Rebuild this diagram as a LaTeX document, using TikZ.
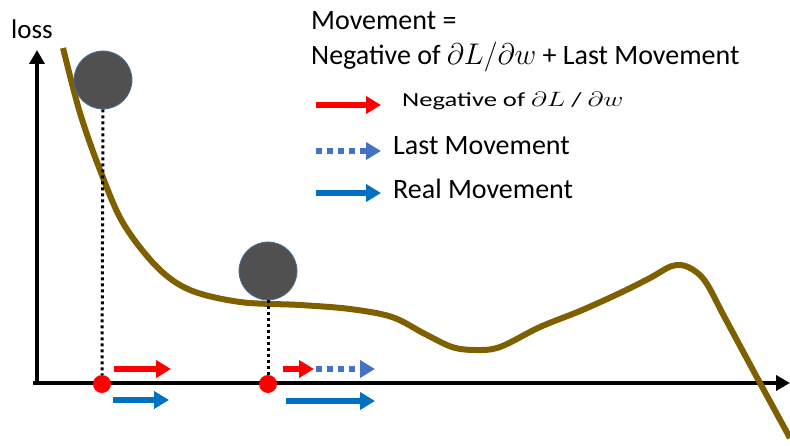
\documentclass[tikz,border=0pt]{standalone}
\usepackage{fontspec}
\setmainfont{Carlito}
\usetikzlibrary{arrows.meta, positioning, calc}
\definecolor{lossbrown}{HTML}{7F6000}
\definecolor{ballgray}{HTML}{505050}
\definecolor{ballrim}{HTML}{41719C}
\definecolor{lastblue}{HTML}{4472C4}
\definecolor{realblue}{HTML}{0070C0}
\newcommand{\gradtext}{\scalebox{1.2}{$\partial L/\partial w$}}
\tikzset{
    axis/.style={line width=4pt, -{Triangle[length=14pt, width=15pt]}},
    losscurve/.style={line width=6pt, lossbrown},
    ball/.style={circle, draw=ballrim, line width=0.8pt, fill=ballgray, minimum size=58pt, inner sep=0pt},
    dot/.style={circle, fill=red, minimum size=18pt, inner sep=0pt},
    dropline/.style={line width=3pt, dash pattern=on 3pt off 3pt},
    negarrow/.style={line width=6pt, red, -{Triangle[length=15pt, width=17pt]}},
    lastarrow/.style={line width=6pt, lastblue, dash pattern=on 6pt off 5pt, -{Triangle[length=15pt, width=17pt]}},
    realarrow/.style={line width=6pt, realblue, -{Triangle[length=15pt, width=17pt]}},
    label/.style={anchor=base west, inner sep=0pt, font=\fontsize{28}{32}\selectfont}
}
\begin{document}
\begin{tikzpicture}[x=1pt, y=-1pt]
    \useasboundingbox (0,0) rectangle (790,446);
    % axes
    \coordinate (origin) at (33,383);
    \coordinate (ytip) at (37,50);
    \coordinate (xtip) at (790,383);
    \draw [axis] ($(origin)+(4,0)$) -- (ytip);
    \draw [axis] (origin) -- (xtip);
    \node [label, font=\fontsize{27}{30}\selectfont] (loss) at (11,39) {loss};
    % loss curve
    \draw [losscurve] plot [smooth, tension=0.55] coordinates {
        (63,48) (80,113) (100,170) (123,223) (157,267) (190,290) (240,302)
        (300,305) (350,309) (392,317) (425,334) (452,347) (475,350) (500,347) (540,327)
        (580,311) (620,293) (650,278) (672,266) (688,267) (705,281) (725,318) (760,383) (790,438)};
    % balls and their points on the axis
    \node [ball] (ballA) at (103,80) {};
    \node [ball] (ballB) at (268,271) {};
    \node [dot] (dotA) at (102,384) {};
    \node [dot] (dotB) at (268,384) {};
    \draw [dropline] (ballA.south) -- (dotA.north);
    \draw [dropline] (ballB.south) -- (dotB.north);
    % movements at the first point
    \coordinate (negA) at (114,369);
    \coordinate (negAend) at (171,369);
    \coordinate (realA) at (113,400);
    \coordinate (realAend) at (169,400);
    \draw [negarrow] (negA) -- (negAend);
    \draw [realarrow] (realA) -- (realAend);
    % movements at the second point
    \coordinate (negB) at (283,369);
    \coordinate (negBend) at (314,369);
    \coordinate (lastBend) at (375,369);
    \coordinate (realB) at (286,401);
    \coordinate (realBend) at (375,401);
    \draw [lastarrow] ($(negBend)+(2,0)$) -- (lastBend);
    \draw [negarrow] (negB) -- (negBend);
    \draw [realarrow] (realB) -- (realBend);
    % legend
    \node [label] (title) at (311,30) {Movement =};
    \node [label] (rule) at (311,65) {Negative of \gradtext{} + Last Movement};
    \node [label, font=\fontsize{20}{24}\selectfont] (negtext) at (402,107)
        {\scalebox{1.33}[1]{Negative of $\partial L$ / $\partial w$}};
    \node [label] (lasttext) at (393,155) {Last Movement};
    \node [label] (realtext) at (393,199) {Real Movement};
    \coordinate (negkey) at (316,105);
    \coordinate (lastkey) at (316,151);
    \coordinate (realkey) at (316,193);
    \draw [negarrow] (negkey) -- ++(65,0) coordinate (negkeyend);
    \draw [lastarrow] (lastkey) -- ++(65,0) coordinate (lastkeyend);
    \draw [realarrow] (realkey) -- ++(65,0) coordinate (realkeyend);
\end{tikzpicture}
\end{document}
